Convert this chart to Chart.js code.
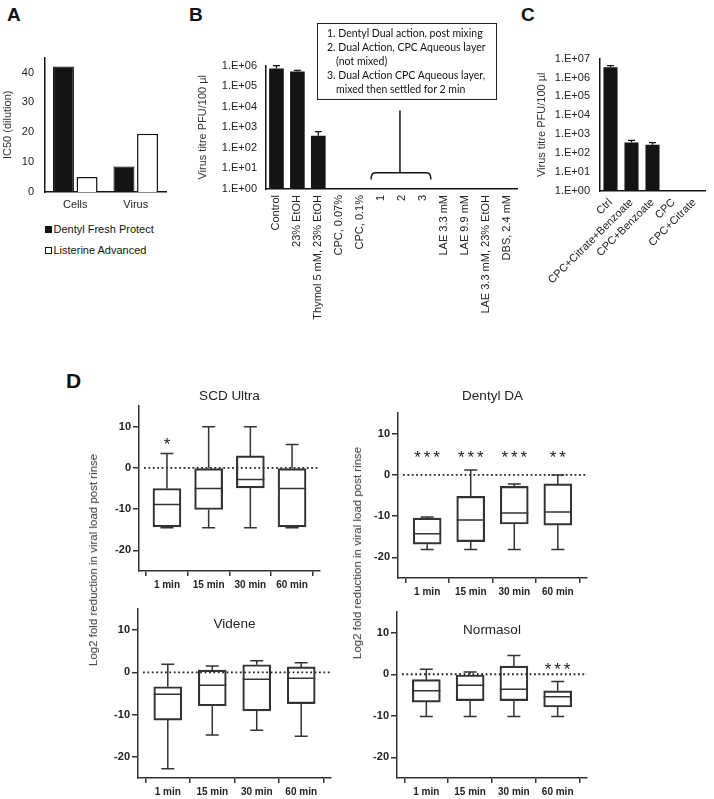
<!DOCTYPE html>
<html>
<head>
<meta charset="utf-8">
<script src="https://cdn.jsdelivr.net/npm/chart.js@4.4.1/dist/chart.umd.min.js"></script>
<style>
  body { margin: 0; background: #fff; }
  #page { position: relative; width: 714px; height: 799px; overflow: hidden;
          font-family: "Liberation Sans", Arial, sans-serif; color: #222; }
  canvas { position: absolute; }
  .panel { position: absolute; font-weight: bold; font-size: 19px; line-height: 1; color: #111; }
  #legendA { position: absolute; left: 45px; top: 223px; font-size: 11px; color: #111; }
  .leg-item { height: 20.7px; line-height: 13px; white-space: nowrap; color: #111; }
  .sw { display: inline-block; width: 7px; height: 7px; box-sizing: border-box;
        border: 1.5px solid #111; margin-right: 1.5px; vertical-align: 0px; }
  #noteB { position: absolute; left: 317px; top: 23px; width: 180px; height: 77px; box-sizing: border-box;
           border: 1.5px solid #222; font-family: Lato, "Open Sans", sans-serif; font-size: 10.5px;
           line-height: 14px; padding: 2px 0 0 18px; white-space: nowrap; color: #111; }
  #noteB div { text-indent: -9px; }
  .ytitle { position: absolute; white-space: nowrap; font-size: 11.5px; color: #333;
            transform: translate(-50%, -50%) rotate(-90deg); }
</style>
</head>
<body>
<div id="page">
  <div class="panel" style="left:7px;top:5px">A</div>
  <div class="panel" style="left:189px;top:5px">B</div>
  <div class="panel" style="left:521px;top:5px">C</div>
  <div class="panel" style="left:66px;top:370px;font-size:21px">D</div>

  <canvas id="chartA"></canvas>
  <div id="legendA"></div>

  <canvas id="chartB"></canvas>
  <div id="noteB">
    <div>1. Dentyl Dual action, post mixing</div>
    <div>2. Dual Action, CPC Aqueous layer<br>(not mixed)</div>
    <div>3. Dual Action CPC Aqueous layer,<br>mixed then settled for 2 min</div>
  </div>

  <canvas id="chartC"></canvas>

  <canvas id="chartScd"></canvas>
  <canvas id="chartDentyl"></canvas>
  <canvas id="chartVidene"></canvas>
  <canvas id="chartNormasol"></canvas>
  <div class="ytitle" style="left:93px;top:560px">Log2 fold reduction in viral load post rinse</div>
  <div class="ytitle" style="left:357px;top:553px">Log2 fold reduction in viral load post rinse</div>
</div>

<script>
// ---- panel A
const aCategories = ['Cells', 'Virus'];
const aNames = ['Dentyl Fresh Protect', 'Listerine Advanced'];
const aDentyl = [42, 8.5];
const aListerine = [5, 19.5];
const aTicks = [0, 10, 20, 30, 40];

// ---- panel B
const bCategories = ['Control', '23% EtOH', 'Thymol 5 mM, 23% EtOH', 'CPC, 0.07%', 'CPC, 0.1%',
  '1', '2', '3', 'LAE 3.3 mM', 'LAE 9.9 mM', 'LAE 3.3 mM, 23% EtOH', 'DBS, 2.4 mM'];
const bTitre = [7.2e5, 5.2e5, 390, null, null, null, null, null, null, null, null, null];
const bErrTop = [1.0e6, 5.8e5, 620, null, null, null, null, null, null, null, null, null];
const bTicks = [1, 10, 100, 1e3, 1e4, 1e5, 1e6];
const bTickLabels = ['1.E+00', '1.E+01', '1.E+02', '1.E+03', '1.E+04', '1.E+05', '1.E+06'];

// ---- panel C
const cCategories = ['Ctrl', 'CPC+Citrate+Benzoate', 'CPC+Benzoate', 'CPC', 'CPC+Citrate'];
const cTitre = [3.5e6, 370, 280, null, null];
const cErrTop = [4.3e6, 470, 360, null, null];
const cTicks = [1, 10, 100, 1e3, 1e4, 1e5, 1e6, 1e7];
const cTickLabels = ['1.E+00', '1.E+01', '1.E+02', '1.E+03', '1.E+04', '1.E+05', '1.E+06', '1.E+07'];

// ---- panel D (box plots)
const timeLabels = ['1 min', '15 min', '30 min', '60 min'];
const dTicks = [-20, -10, 0, 10];

const scdMin = [-14.5, -14.5, -14.5, -14.5];
const scdQ1 = [-14.3, -10.1, -4.85, -14.3];
const scdMed = [-8.9, -5, -2.8, -5];
const scdQ3 = [-5, 0, 2.9, 0];
const scdMax = [3.5, 10, 10, 5.65];
const scdStars = ['*', '', '', ''];

const dentylMin = [-18.1, -18.1, -18.1, -18.1];
const dentylQ1 = [-16.8, -16.2, -11.9, -12.2];
const dentylMed = [-14.3, -10.95, -9.25, -9.0];
const dentylQ3 = [-10.5, -5.2, -2.8, -2.2];
const dentylMax = [-10.2, 1.2, -2.2, 0];
const dentylStars = ['***', '***', '***', '**'];

const videneMin = [-22.8, -14.8, -13.7, -15.1];
const videneQ1 = [-11.3, -7.9, -9.1, -7.4];
const videneMed = [-5.2, -3.07, -1.65, -1.4];
const videneQ3 = [-3.4, 0.55, 1.8, 1.3];
const videneMax = [1.95, 1.5, 2.75, 2.3];
const videneStars = ['', '', '', ''];

const normasolMin = [-10.2, -10.2, -10.2, -10.2];
const normasolQ1 = [-6.7, -6.35, -6.35, -7.9];
const normasolMed = [-3.95, -2.65, -3.6, -5.4];
const normasolQ3 = [-1.3, 0, 1.95, -4.0];
const normasolMax = [1.2, 0.55, 4.5, -1.75];
const normasolStars = ['', '', '', '***'];

Chart.defaults.font.family = '"Liberation Sans", Arial, sans-serif';
Chart.defaults.font.size = 11;
Chart.defaults.color = '#222';
Chart.defaults.animation = false;
Chart.defaults.plugins.legend.display = false;
Chart.defaults.plugins.tooltip.enabled = false;

const INK = '#141414';

// size the canvas so the plot area lands at the given page box
function placeCanvas(id, area, m) {
  const c = document.getElementById(id);
  c.width = area.r - area.l + m.l + m.r;
  c.height = area.b - area.t + m.t + m.b;
  c.style.left = (area.l - m.l) + 'px';
  c.style.top = (area.t - m.t) + 'px';
  return c;
}

function fixTicks(values) {
  return scale => { scale.ticks = values.map(v => ({ value: v })); };
}

function errorBars(tops) {
  return {
    id: 'errorBars',
    afterDatasetsDraw(chart) {
      const { ctx } = chart;
      const y = chart.scales.y;
      ctx.save();
      ctx.strokeStyle = INK;
      ctx.lineWidth = 1.3;
      chart.getDatasetMeta(0).data.forEach((bar, i) => {
        if (tops[i] == null) return;
        const yt = y.getPixelForValue(tops[i]);
        ctx.beginPath();
        ctx.moveTo(bar.x, bar.y);
        ctx.lineTo(bar.x, yt);
        ctx.moveTo(bar.x - 3.5, yt);
        ctx.lineTo(bar.x + 3.5, yt);
        ctx.stroke();
      });
      ctx.restore();
    }
  };
}

// ---------- A
const areaA = { l: 45, t: 52, r: 166, b: 192 };
const mA = { l: 45, t: 12, r: 8, b: 24 };
const chartA = new Chart(placeCanvas('chartA', areaA, mA), {
  type: 'bar',
  data: {
    labels: aCategories,
    datasets: [
      { label: aNames[0], data: aDentyl, backgroundColor: INK, borderColor: INK, borderWidth: 1.2 },
      { label: aNames[1], data: aListerine, backgroundColor: '#ffffff', borderColor: INK, borderWidth: 1.5 }
    ]
  },
  options: {
    responsive: false,
    layout: { padding: { top: mA.t, right: mA.r, left: 0, bottom: 0 } },
    datasets: { bar: { categoryPercentage: 0.78, barPercentage: 0.89, borderSkipped: 'bottom' } },
    scales: {
      x: {
        grid: { display: false, drawTicks: false },
        border: { color: INK, width: 1.5 },
        ticks: { padding: 6 },
        afterFit: s => { s.height = mA.b; }
      },
      y: {
        min: 0, max: 45,
        grid: { display: false, drawTicks: false },
        border: { color: INK, width: 1.5 },
        ticks: { padding: 11 },
        afterBuildTicks: fixTicks(aTicks),
        title: { display: true, text: 'IC50 (dilution)', color: '#333', padding: { top: 1, bottom: 0 } },
        afterFit: s => { s.width = mA.l; }
      }
    }
  }
});

// legend built from the chart's own datasets
const legendA = document.getElementById('legendA');
chartA.data.datasets.forEach(ds => {
  const item = document.createElement('div');
  item.className = 'leg-item';
  const sw = document.createElement('span');
  sw.className = 'sw';
  sw.style.background = ds.backgroundColor;
  const tx = document.createElement('span');
  tx.textContent = ds.label;
  item.append(sw, tx);
  legendA.append(item);
});

// ---------- B
const areaB = { l: 266, t: 60, r: 520, b: 189 };
const mB = { l: 70, t: 10, r: 6, b: 140 };
const bracketB = {
  id: 'bracketB',
  afterDatasetsDraw(chart) {
    const { ctx } = chart;
    const x = chart.scales.x, y = chart.scales.y;
    const x1 = x.getPixelForValue(5) - 10, x2 = x.getPixelForValue(7) + 8;
    const xm = x.getPixelForValue(6) - 2;
    const yTop = y.getPixelForValue(6.2), yEnd = y.getPixelForValue(2.9);
    ctx.save();
    ctx.strokeStyle = INK;
    ctx.lineWidth = 1.5;
    ctx.beginPath();
    ctx.moveTo(x1, yEnd);
    ctx.quadraticCurveTo(x1, yTop, x1 + 4, yTop);
    ctx.lineTo(x2 - 4, yTop);
    ctx.quadraticCurveTo(x2, yTop, x2, yEnd);
    ctx.moveTo(xm, yTop);
    ctx.lineTo(xm, y.getPixelForValue(6500));
    ctx.stroke();
    ctx.restore();
  }
};
new Chart(placeCanvas('chartB', areaB, mB), {
  type: 'bar',
  data: {
    labels: bCategories,
    datasets: [{ data: bTitre, backgroundColor: INK, borderWidth: 0 }]
  },
  options: {
    responsive: false,
    layout: { padding: { top: mB.t, right: mB.r, left: 0, bottom: 0 } },
    datasets: { bar: { categoryPercentage: 1, barPercentage: 0.7 } },
    scales: {
      x: {
        grid: { display: false, drawTicks: false },
        border: { color: INK, width: 1.5 },
        ticks: { padding: 6, minRotation: 90, maxRotation: 90, autoSkip: false },
        afterFit: s => { s.height = mB.b; }
      },
      y: {
        type: 'logarithmic', min: 1, max: 1e6,
        grid: { display: false, drawTicks: false },
        border: { color: INK, width: 1.5 },
        ticks: { padding: 9, callback: v => bTickLabels[bTicks.indexOf(v)] },
        afterBuildTicks: fixTicks(bTicks),
        title: { display: true, text: 'Virus titre PFU/100 µl', color: '#333', padding: { top: 0, bottom: 0 } },
        afterFit: s => { s.width = mB.l; }
      }
    }
  },
  plugins: [errorBars(bErrTop), bracketB]
});

// ---------- C
const areaC = { l: 600, t: 52, r: 705, b: 191 };
const mC = { l: 65, t: 10, r: 8, b: 100 };
new Chart(placeCanvas('chartC', areaC, mC), {
  type: 'bar',
  data: {
    labels: cCategories,
    datasets: [{ data: cTitre, backgroundColor: INK, borderWidth: 0 }]
  },
  options: {
    responsive: false,
    layout: { padding: { top: mC.t, right: mC.r, left: 0, bottom: 0 } },
    datasets: { bar: { categoryPercentage: 1, barPercentage: 0.67 } },
    scales: {
      x: {
        grid: { display: false, drawTicks: false },
        border: { color: INK, width: 1.5 },
        ticks: { padding: 5, minRotation: 45, maxRotation: 45, autoSkip: false },
        afterFit: s => { s.height = mC.b; }
      },
      y: {
        type: 'logarithmic', min: 1, max: 1e7,
        grid: { display: false, drawTicks: false },
        border: { color: INK, width: 1.5 },
        ticks: { padding: 10, callback: v => cTickLabels[cTicks.indexOf(v)] },
        afterBuildTicks: fixTicks(cTicks),
        title: { display: true, text: 'Virus titre PFU/100 µl', color: '#333', padding: { top: 0, bottom: 0 } },
        afterFit: s => { s.width = mC.l; }
      }
    }
  },
  plugins: [errorBars(cErrTop)]
});

// ---------- D box plots
function boxExtras(cfg) {
  return {
    id: 'boxExtras',
    beforeDatasetsDraw(chart) {
      const { ctx, chartArea } = chart;
      const y0 = chart.scales.y.getPixelForValue(0);
      ctx.save();
      ctx.strokeStyle = '#222';
      ctx.lineWidth = 1.8;
      ctx.setLineDash([1.8, 2.6]);
      ctx.beginPath();
      ctx.moveTo(chartArea.left + 5, y0);
      ctx.lineTo(chartArea.right, y0);
      ctx.stroke();
      ctx.restore();
    },
    afterDatasetsDraw(chart) {
      const { ctx, chartArea } = chart;
      const x = chart.scales.x, y = chart.scales.y;
      ctx.save();
      ctx.strokeStyle = '#333';
      ctx.lineWidth = 1.5;
      cfg.q1.forEach((_, i) => {
        const px = x.getPixelForValue(i);
        const yMin = y.getPixelForValue(cfg.min[i]);
        const yMax = y.getPixelForValue(cfg.max[i]);
        const yQ1 = y.getPixelForValue(cfg.q1[i]);
        const yQ3 = y.getPixelForValue(cfg.q3[i]);
        const yMed = y.getPixelForValue(cfg.med[i]);
        ctx.beginPath();
        ctx.moveTo(px, yQ3); ctx.lineTo(px, yMax);
        ctx.moveTo(px - 6.5, yMax); ctx.lineTo(px + 6.5, yMax);
        ctx.moveTo(px, yQ1); ctx.lineTo(px, yMin);
        ctx.moveTo(px - 6.5, yMin); ctx.lineTo(px + 6.5, yMin);
        ctx.moveTo(px - 14, yMed); ctx.lineTo(px + 14, yMed);
        ctx.stroke();

        const s = cfg.stars[i];
        if (s) {
          ctx.fillStyle = '#222';
          ctx.font = '17px "Liberation Sans", Arial, sans-serif';
          ctx.textAlign = 'center';
          ctx.textBaseline = 'alphabetic';
          const ys = y.getPixelForValue(cfg.starAt) + 10;
          for (let k = 0; k < s.length; k++) {
            ctx.fillText('*', px + (k - (s.length - 1) / 2) * 9.5, ys);
          }
        }
      });
      ctx.fillStyle = '#222';
      ctx.font = '13.5px "Liberation Sans", Arial, sans-serif';
      ctx.textAlign = 'center';
      ctx.textBaseline = 'middle';
      ctx.fillText(cfg.title, (chartArea.left + chartArea.right) / 2, y.getPixelForValue(cfg.titleAt));
      ctx.restore();
    }
  };
}

function boxChart(id, area, m, cfg) {
  const canvas = placeCanvas(id, area, m);
  return new Chart(canvas, {
    type: 'bar',
    data: {
      datasets: [{
        data: cfg.q1.map((v, i) => ({ x: i, y: [v, cfg.q3[i]] })),
        backgroundColor: 'rgba(255,255,255,0)',
        borderColor: '#333',
        borderWidth: 1.5,
        borderSkipped: false,
        barThickness: 28
      }]
    },
    options: {
      responsive: false,
      layout: { padding: { top: m.t, right: m.r, left: 0, bottom: 0 } },
      scales: {
        x: {
          type: 'linear', min: -0.67, max: 3.67, offset: false,
          grid: { display: true, drawOnChartArea: false, tickLength: 5, color: '#333', lineWidth: 1.5 },
          border: { color: '#333', width: 1.5 },
          ticks: { padding: 3, font: { size: 10, weight: 'bold' }, callback: v => timeLabels[v] },
          afterBuildTicks: fixTicks([0, 1, 2, 3]),
          afterFit: s => { s.height = m.b; }
        },
        y: {
          min: -25, max: 15,
          grid: { display: true, drawOnChartArea: false, tickLength: 6, color: '#333', lineWidth: 1.5 },
          border: { color: '#333', width: 1.5 },
          ticks: { padding: 2, font: { size: 11, weight: 'bold' } },
          afterBuildTicks: fixTicks(dTicks),
          afterFit: s => { s.width = m.l; }
        }
      }
    },
    plugins: [boxExtras(cfg)]
  });
}

boxChart('chartScd', { l: 139, t: 406, r: 320, b: 571 }, { l: 45, t: 30, r: 8, b: 28 }, {
  title: 'SCD Ultra', titleAt: 17.4, starAt: 6.7,
  min: scdMin, q1: scdQ1, med: scdMed, q3: scdQ3, max: scdMax, stars: scdStars
});
boxChart('chartDentyl', { l: 398, t: 413, r: 587, b: 578 }, { l: 45, t: 30, r: 8, b: 28 }, {
  title: 'Dentyl DA', titleAt: 19, starAt: 5.35,
  min: dentylMin, q1: dentylQ1, med: dentylMed, q3: dentylQ3, max: dentylMax, stars: dentylStars
});
boxChart('chartVidene', { l: 138, t: 609, r: 331, b: 778 }, { l: 45, t: 10, r: 8, b: 21 }, {
  title: 'Videne', titleAt: 11.4, starAt: 0,
  min: videneMin, q1: videneQ1, med: videneMed, q3: videneQ3, max: videneMax, stars: videneStars
});
boxChart('chartNormasol', { l: 397, t: 612, r: 587, b: 778 }, { l: 45, t: 10, r: 8, b: 21 }, {
  title: 'Normasol', titleAt: 10.7, starAt: 2.2,
  min: normasolMin, q1: normasolQ1, med: normasolMed, q3: normasolQ3, max: normasolMax, stars: normasolStars
});
</script>
</body>
</html>
